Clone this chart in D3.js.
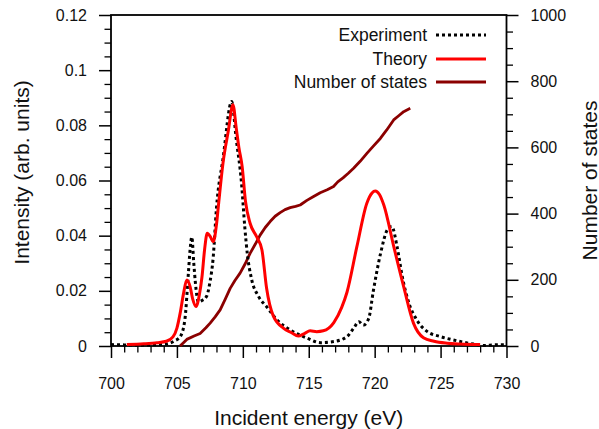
<!DOCTYPE html>
<html>
<head>
<meta charset="utf-8">
<script src="https://cdn.jsdelivr.net/npm/d3@7"></script>
<style>
  html, body { margin: 0; padding: 0; background: #fff; }
  svg { display: block; font-family: "Liberation Sans", Arial, Helvetica, sans-serif; }
</style>
</head>
<body>
<svg id="chart" width="599" height="429"></svg>
<script>
// Measured spectrum: incident energy (eV) and intensity (arb. units)
const expEnergy = [700.0, 701.0, 702.0, 703.0, 704.2, 704.8, 705.25, 705.6, 705.87, 706.0, 706.13, 706.28, 706.4, 706.63, 706.9, 707.25, 707.5, 707.75, 708.0, 708.5, 709.15, 709.5, 709.9, 710.15, 710.35, 710.65, 711.2, 711.8, 712.6, 713.6, 714.9, 715.9, 716.9, 717.9, 718.4, 718.8, 719.15, 719.55, 719.9, 720.45, 720.95, 721.3, 721.7, 722.1, 722.6, 723.2, 724.0, 725.0, 726.25, 727.5, 728.3, 729.0, 730.0];
const expIntensity = [0.0005, 0.0004, 0.0003, 0.0004, 0.0007, 0.0018, 0.0034, 0.0094, 0.0264, 0.0350, 0.0395, 0.0300, 0.0230, 0.0160, 0.0165, 0.0180, 0.0230, 0.0320, 0.0500, 0.0680, 0.0886, 0.0750, 0.0590, 0.0430, 0.0330, 0.0245, 0.0179, 0.0143, 0.0094, 0.0058, 0.0028, 0.0012, 0.0016, 0.0034, 0.0064, 0.0088, 0.0076, 0.0100, 0.0200, 0.0336, 0.0420, 0.0433, 0.0360, 0.0250, 0.0155, 0.0094, 0.0052, 0.0034, 0.0019, 0.0007, 0.0002, 0.0004, 0.0005];

// Calculated spectrum
const theoryEnergy = [701.2, 702.5, 703.5, 704.2, 704.7, 705.0, 705.25, 705.5, 705.75, 706.0, 706.2, 706.45, 706.7, 706.9, 707.1, 707.3, 707.55, 707.75, 708.0, 708.15, 708.5, 708.9, 709.25, 709.5, 709.7, 709.95, 710.2, 710.55, 711.05, 711.45, 711.8, 712.3, 713.1, 713.7, 714.2, 714.7, 715.1, 715.6, 716.1, 716.9, 717.5, 717.9, 718.65, 719.4, 719.8, 720.05, 720.35, 720.7, 721.45, 722.2, 722.95, 723.7, 724.5, 725.5, 726.5, 728.0];
const theoryIntensity = [0.0005, 0.0008, 0.0012, 0.0017, 0.0033, 0.0065, 0.0120, 0.0190, 0.0239, 0.0215, 0.0170, 0.0143, 0.0185, 0.0250, 0.0350, 0.0409, 0.0395, 0.0378, 0.0440, 0.0510, 0.0665, 0.0780, 0.0875, 0.0790, 0.0720, 0.0650, 0.0525, 0.0445, 0.0396, 0.0348, 0.0210, 0.0110, 0.0064, 0.0048, 0.0036, 0.0046, 0.0055, 0.0052, 0.0055, 0.0085, 0.0140, 0.0195, 0.0360, 0.0517, 0.0555, 0.0562, 0.0550, 0.0510, 0.0360, 0.0215, 0.0082, 0.0030, 0.0017, 0.0010, 0.0007, 0.0005];

// Cumulative number of states (right axis)
const statesEnergy = [705.24, 705.75, 706.3, 706.76, 707.2, 707.52, 707.9, 708.28, 708.65, 709.04, 709.4, 709.79, 710.2, 710.55, 710.95, 711.31, 711.7, 712.07, 712.45, 712.83, 713.2, 713.59, 714.0, 714.35, 714.86, 715.3, 715.87, 716.4, 716.88, 717.2, 717.6, 718.0, 718.4, 718.9, 719.41, 719.9, 720.43, 720.9, 721.44, 721.8, 722.2, 722.7];
const statesCount = [0, 20, 30, 38, 55, 69, 88, 109, 140, 174, 198, 220, 250, 280, 308, 335, 358, 376, 392, 403, 412, 418, 422, 426, 440, 450, 463, 472, 482, 496, 508, 522, 537, 558, 582, 604, 627, 652, 683, 695, 708, 718];

// Axis tick values
const xMajorTicks = [700, 705, 710, 715, 720, 725, 730];
const yLeftTicks = [0, 0.02, 0.04, 0.06, 0.08, 0.1, 0.12];
const yLeftTickLabels = ["0", "0.02", "0.04", "0.06", "0.08", "0.1", "0.12"];
const yRightTicks = [0, 200, 400, 600, 800, 1000];

// Legend entries
const seriesNames = ["Experiment", "Theory", "Number of states"];

const svg = d3.select("#chart");
const plot = { left: 111, right: 506.5, top: 15, bottom: 346 };

const x = d3.scaleLinear().domain([700, 730]).range([plot.left, plot.right]);
const yL = d3.scaleLinear().domain([0, 0.12]).range([plot.bottom, plot.top]);
const yR = d3.scaleLinear().domain([0, 1000]).range([plot.bottom, plot.top]);

const tickFont = 16;

// Bottom axis: major ticks every 5 eV, minor every 1 eV, pointing outward
const xMinor = d3.range(700, 731, 1).filter(v => v % 5 !== 0);
svg.append("g").attr("transform", `translate(0,${plot.bottom})`)
  .call(d3.axisBottom(x).tickValues(xMinor).tickSize(6.5).tickFormat(""))
  .call(g => g.select(".domain").remove())
  .call(g => g.selectAll("line").attr("stroke", "#000").attr("stroke-width", 1.3));
svg.append("g").attr("transform", `translate(0,${plot.bottom})`)
  .call(d3.axisBottom(x).tickValues(xMajorTicks).tickSize(12).tickPadding(20).tickFormat(d3.format("d")))
  .call(g => g.select(".domain").remove())
  .call(g => g.selectAll("line").attr("stroke", "#000").attr("stroke-width", 1.5))
  .call(g => g.selectAll("text").attr("font-size", tickFont).attr("fill", "#111").attr("font-family", "Liberation Sans, Arial, sans-serif"));

// Left axis
const yLMinor = d3.range(0, 0.1201, 0.005).filter((v, i) => i % 4 !== 0);
svg.append("g").attr("transform", `translate(${plot.left},0)`)
  .call(d3.axisLeft(yL).tickValues(yLMinor).tickSize(6.5).tickFormat(""))
  .call(g => g.select(".domain").remove())
  .call(g => g.selectAll("line").attr("stroke", "#000").attr("stroke-width", 1.3));
svg.append("g").attr("transform", `translate(${plot.left},0)`)
  .call(d3.axisLeft(yL).tickValues(yLeftTicks).tickSize(12).tickPadding(12)
    .tickFormat((d, i) => yLeftTickLabels[i]))
  .call(g => g.select(".domain").remove())
  .call(g => g.selectAll("line").attr("stroke", "#000").attr("stroke-width", 1.5))
  .call(g => g.selectAll("text").attr("font-size", tickFont).attr("fill", "#111").attr("font-family", "Liberation Sans, Arial, sans-serif"));

// Right axis
const yRMinor = d3.range(0, 1001, 50).filter(v => v % 200 !== 0);
svg.append("g").attr("transform", `translate(${plot.right},0)`)
  .call(d3.axisRight(yR).tickValues(yRMinor).tickSize(6.5).tickFormat(""))
  .call(g => g.select(".domain").remove())
  .call(g => g.selectAll("line").attr("stroke", "#000").attr("stroke-width", 1.3));
svg.append("g").attr("transform", `translate(${plot.right},0)`)
  .call(d3.axisRight(yR).tickValues(yRightTicks).tickSize(12).tickPadding(12).tickFormat(d3.format("d")))
  .call(g => g.select(".domain").remove())
  .call(g => g.selectAll("line").attr("stroke", "#000").attr("stroke-width", 1.5))
  .call(g => g.selectAll("text").attr("font-size", tickFont).attr("fill", "#111").attr("font-family", "Liberation Sans, Arial, sans-serif"));

// Frame
svg.append("rect")
  .attr("x", plot.left).attr("y", plot.top)
  .attr("width", plot.right - plot.left).attr("height", plot.bottom - plot.top)
  .attr("fill", "none").attr("stroke", "#000").attr("stroke-width", 1.8);

// Curves
const clip = svg.append("defs").append("clipPath").attr("id", "plotClip")
  .append("rect").attr("x", plot.left).attr("y", plot.top)
  .attr("width", plot.right - plot.left).attr("height", plot.bottom - plot.top + 2);

const curves = svg.append("g").attr("clip-path", "url(#plotClip)");

const lineL = d3.line().x(d => x(d[0])).y(d => yL(d[1])).curve(d3.curveMonotoneX);
const lineR = d3.line().x(d => x(d[0])).y(d => yR(d[1])).curve(d3.curveLinear);

const statesColor = "#8b0000";
const theoryColor = "#ff0000";

curves.append("path")
  .datum(d3.zip(statesEnergy, statesCount))
  .attr("d", lineR).attr("fill", "none")
  .attr("stroke", statesColor).attr("stroke-width", 2.8).attr("stroke-linejoin", "round");

curves.append("path")
  .datum(d3.zip(expEnergy, expIntensity))
  .attr("d", lineL).attr("fill", "none")
  .attr("stroke", "#000").attr("stroke-width", 3).attr("stroke-dasharray", "3,3");

curves.append("path")
  .datum(d3.zip(theoryEnergy, theoryIntensity))
  .attr("d", lineL).attr("fill", "none")
  .attr("stroke", theoryColor).attr("stroke-width", 3).attr("stroke-linejoin", "round");

// Legend
const legendStyles = [
  { color: "#000", dash: "3,3" },
  { color: theoryColor, dash: null },
  { color: statesColor, dash: null }
];
const legendRowY = [35, 59, 82];
const legend = svg.append("g");
seriesNames.forEach((name, i) => {
  legend.append("text")
    .attr("x", 427).attr("y", legendRowY[i]).attr("dy", "0.35em")
    .attr("text-anchor", "end").attr("font-size", 17.5).attr("fill", "#111")
    .text(name);
  legend.append("line")
    .attr("x1", 436).attr("x2", 486)
    .attr("y1", legendRowY[i]).attr("y2", legendRowY[i])
    .attr("stroke", legendStyles[i].color).attr("stroke-width", 3)
    .attr("stroke-dasharray", legendStyles[i].dash);
});

// Axis titles
const midY = (plot.top + plot.bottom) / 2;
svg.append("text")
  .attr("x", (plot.left + plot.right) / 2).attr("y", 425)
  .attr("text-anchor", "middle").attr("font-size", 21).attr("fill", "#111")
  .text("Incident energy (eV)");
svg.append("text")
  .attr("transform", `translate(28.5,${midY - 8}) rotate(-90)`)
  .attr("text-anchor", "middle").attr("font-size", 21).attr("fill", "#111")
  .text("Intensity (arb. units)");
svg.append("text")
  .attr("transform", `translate(596.5,${midY}) rotate(-90)`)
  .attr("text-anchor", "middle").attr("font-size", 21).attr("fill", "#111")
  .text("Number of states");
</script>
</body>
</html>
